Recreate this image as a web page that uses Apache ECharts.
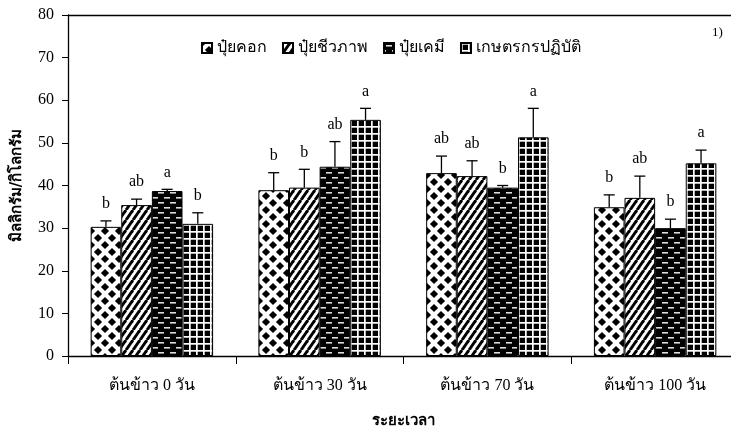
<!DOCTYPE html>
<html>
<head>
<meta charset="utf-8">
<script src="https://cdn.jsdelivr.net/npm/echarts@6/dist/echarts.min.js"></script>
<style>html,body{margin:0;padding:0;background:#fff;}#c{width:731px;height:432px;}</style>
</head>
<body>
<div id="c"></div>
<script>
const categories = ['ต้นข้าว 0 วัน', 'ต้นข้าว 30 วัน', 'ต้นข้าว 70 วัน', 'ต้นข้าว 100 วัน'];
const seriesNames = ['ปุ๋ยคอก', 'ปุ๋ยชีวภาพ', 'ปุ๋ยเคมี', 'เกษตรกรปฏิบัติ'];
const manureValues = [30.3, 38.9, 42.9, 34.9];
const bioValues = [35.4, 39.5, 42.2, 37.1];
const chemValues = [38.7, 44.4, 39.5, 30.0];
const farmerValues = [31.0, 55.4, 51.3, 45.2];
const manureErrTop = [31.7, 43.0, 46.9, 37.8];
const bioErrTop = [36.8, 43.8, 45.8, 42.2];
const chemErrTop = [39.1, 50.3, 40.0, 32.1];
const farmerErrTop = [33.6, 58.1, 58.1, 48.3];
const manureLetters = ['b', 'b', 'ab', 'b'];
const bioLetters = ['ab', 'b', 'ab', 'ab'];
const chemLetters = ['a', 'ab', 'b', 'b'];
const farmerLetters = ['b', 'a', 'a', 'a'];
const yTicks = {min: 0, max: 80, interval: 10};

const values = [manureValues, bioValues, chemValues, farmerValues];
const errTops = [manureErrTop, bioErrTop, chemErrTop, farmerErrTop];
const letters = [manureLetters, bioLetters, chemLetters, farmerLetters];

function mk(w, h, draw) {
  const c = document.createElement('canvas');
  c.width = w; c.height = h;
  draw(c.getContext('2d'), w, h);
  return c;
}
const patDiamond = mk(14, 14, (g, w, h) => {
  g.fillStyle = '#fff'; g.fillRect(0, 0, w, h);
  g.fillStyle = '#000';
  const d = (x, y, r) => { g.beginPath(); g.moveTo(x, y - r); g.lineTo(x + r, y); g.lineTo(x, y + r); g.lineTo(x - r, y); g.closePath(); g.fill(); };
  const r = 4.1;
  d(7, 7, r); d(0, 0, r); d(14, 0, r); d(0, 14, r); d(14, 14, r);
});
const patStripe = mk(7, 10, (g, w, h) => {
  g.fillStyle = '#fff'; g.fillRect(0, 0, w, h);
  g.strokeStyle = '#000'; g.lineWidth = 3;
  [-w, 0, w].forEach(o => { g.beginPath(); g.moveTo(o, h); g.lineTo(o + w, 0); g.stroke(); });
});
const patDash = mk(12, 10, (g, w, h) => {
  g.fillStyle = '#000'; g.fillRect(0, 0, w, h);
  g.fillStyle = '#ddd';
  g.fillRect(2, 2, 6, 1.6);
  g.fillRect(8, 7, 6, 1.6);
  g.fillRect(-4, 7, 6, 1.6);
});
const patGrid = mk(7, 7, (g, w, h) => {
  g.fillStyle = '#000'; g.fillRect(0, 0, w, h);
  g.fillStyle = '#fff';
  g.fillRect(0, 0, 1.7, h);
  g.fillRect(0, 0, w, 1.7);
});
const patterns = [patDiamond, patStripe, patDash, patGrid];

const gapRatio = 0.27;
const serif = 'Liberation Serif, Times New Roman, serif';

const series = [];
values.forEach((vals, i) => {
  series.push({
    type: 'bar',
    name: seriesNames[i],
    data: vals,
    barGap: '0%',
    barCategoryGap: (gapRatio * 100) + '%',
    itemStyle: {color: {image: patterns[i], repeat: 'repeat'}, borderColor: '#000', borderWidth: 1},
    emphasis: {disabled: true},
    z: 2
  });
});
values.forEach((vals, i) => {
  series.push({
    type: 'custom',
    name: seriesNames[i] + '_err',
    data: vals.map((v, k) => [k, v, errTops[i][k]]),
    z: 5,
    silent: true,
    renderItem: (params, api) => {
      const k = api.value(0);
      const p0 = api.coord([k, api.value(1)]);
      const p1 = api.coord([k, api.value(2)]);
      const band = api.size([1, 0])[0];
      const gw = band * (1 - gapRatio);
      const bw = gw / 4;
      const x = p0[0] - gw / 2 + (i + 0.5) * bw;
      return {
        type: 'group',
        children: [
          {type: 'line', shape: {x1: x, y1: p0[1], x2: x, y2: p1[1]}, style: {stroke: '#000', lineWidth: 1.3}},
          {type: 'line', shape: {x1: x - 5.5, y1: p1[1], x2: x + 5.5, y2: p1[1]}, style: {stroke: '#000', lineWidth: 1.3}},
          {type: 'text', x: x, y: p1[1] - 9, style: {text: letters[i][k], textAlign: 'center', textVerticalAlign: 'bottom', font: '16px ' + serif, fill: '#000'}}
        ]
      };
    }
  });
});

const chart = echarts.init(document.getElementById('c'), null, {renderer: 'canvas'});
chart.setOption({
  animation: false,
  backgroundColor: '#fff',
  grid: {left: 68, right: -8, top: 15, bottom: 76, outerBoundsMode: 'none', containLabel: false},
  legend: {
    data: seriesNames,
    left: 196, top: 35,
    icon: 'rect',
    itemWidth: 10, itemHeight: 10, itemGap: 15,
    textStyle: {fontSize: 16, color: '#000', fontFamily: 'DejaVu Sans, sans-serif'},
    selectedMode: false
  },
  graphic: [{type: 'text', left: 712, top: 26, style: {text: '1)', font: '13px ' + serif, fill: '#000'}}],
  xAxis: [{
    type: 'category',
    data: categories,
    axisLine: {lineStyle: {color: '#000', width: 1.3}},
    axisTick: {show: true, length: 8, lineStyle: {color: '#000'}},
    axisLabel: {color: '#000', fontSize: 16, fontFamily: serif, margin: 22},
    name: 'ระยะเวลา',
    nameLocation: 'middle',
    nameGap: 58,
    nameTextStyle: {fontSize: 15, fontWeight: 'bold', color: '#000', fontFamily: 'DejaVu Sans, sans-serif'}
  }, {
    type: 'category',
    data: categories,
    position: 'top',
    axisLine: {lineStyle: {color: '#000', width: 1.3}},
    axisTick: {show: false},
    axisLabel: {show: false}
  }],
  yAxis: {
    type: 'value',
    min: yTicks.min, max: yTicks.max, interval: yTicks.interval,
    splitLine: {show: false},
    axisLine: {show: true, lineStyle: {color: '#000', width: 1.3}},
    axisTick: {show: true, length: 6, lineStyle: {color: '#000'}},
    axisLabel: {color: '#000', fontSize: 16, fontFamily: serif, margin: 14},
    name: 'มิลลิกรัม/กิโลกรัม',
    nameLocation: 'middle',
    nameGap: 43,
    nameRotate: 90,
    nameTextStyle: {fontSize: 15, fontWeight: 'bold', color: '#000', fontFamily: 'DejaVu Sans, sans-serif'}
  },
  series: series
});
</script>
</body>
</html>
